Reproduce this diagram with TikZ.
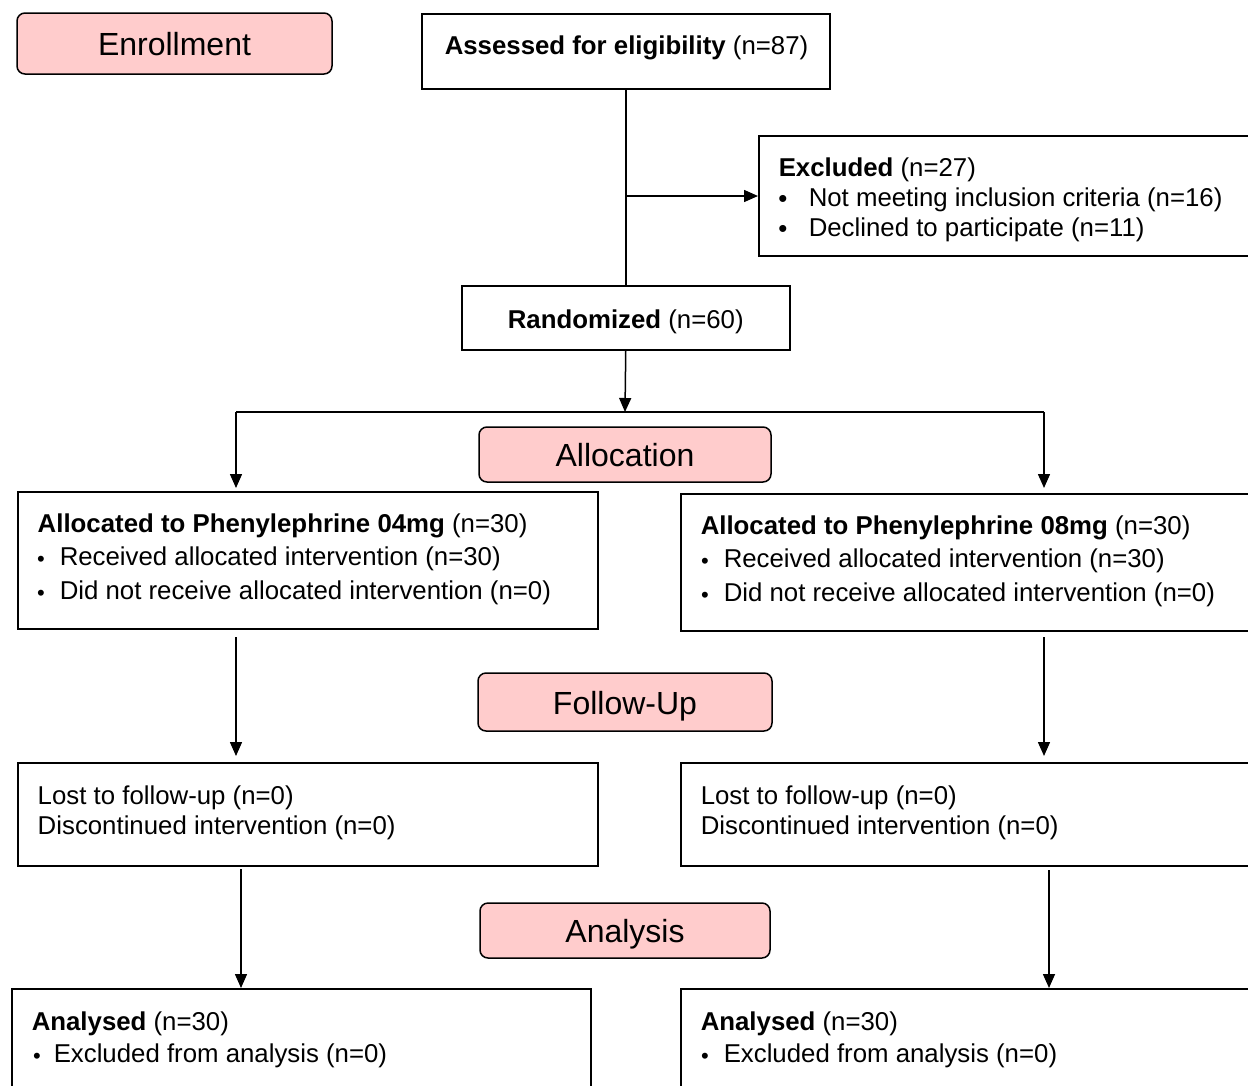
\documentclass[tikz,border=0pt]{standalone}
\usepackage{fontspec}
\setmainfont{Liberation Sans}
\usetikzlibrary{arrows.meta}
\definecolor{pinkfill}{RGB}{255,204,204}
\begin{document}
\begin{tikzpicture}[x=1pt,y=-1pt,line width=1.5pt,
  box/.style={draw,anchor=north west,inner sep=0pt},
  stage/.style={draw,fill=pinkfill,rounded corners=8pt,inner sep=0pt,text height=24pt,text depth=0pt,font=\fontsize{32}{38}\selectfont},
  txt/.style={anchor=west,inner sep=0pt,yshift=-3pt,font=\fontsize{25.8}{30}\selectfont},
  blt/.style={anchor=center,inner sep=0pt,yshift=-4pt,font=\fontsize{22}{26}\selectfont},
  bltbig/.style={anchor=center,inner sep=0pt,yshift=-4pt,font=\fontsize{25.8}{30}\selectfont},
  arr/.style={-{Triangle[length=14pt,width=12pt]}}]
\useasboundingbox (0,0) rectangle (1248,1085);
\clip (0,0) rectangle (1248,1085);
% stage labels
\node[stage,minimum width=315pt,minimum height=61pt] (enroll) at (174.5,43.5) {Enrollment};
\node[stage,minimum width=292pt,minimum height=55pt] (alloc) at (625,454.5) {Allocation};
\node[stage,minimum width=294pt,minimum height=58pt] (follow) at (625,702) {Follow-Up};
\node[stage,minimum width=290pt,minimum height=55pt] (analysis) at (625,930.5) {Analysis};
% boxes
\node[box,minimum width=408pt,minimum height=75pt] (assess) at (421,13) {};
\node[box,minimum width=520pt,minimum height=120pt] (excl) at (758,135) {};
\node[box,minimum width=328pt,minimum height=64pt,text height=21pt,text depth=0pt,font=\fontsize{25.8}{30}\selectfont] (rand) at (461,285) {\textbf{Randomized} (n=60)};
\node[box,minimum width=580pt,minimum height=137pt] (allocL) at (17,491) {};
\node[box,minimum width=600pt,minimum height=137pt] (allocR) at (680,493) {};
\node[box,minimum width=580pt,minimum height=103pt] (lostL) at (17,762) {};
\node[box,minimum width=600pt,minimum height=103pt] (lostR) at (680,762) {};
\node[box,minimum width=579pt,minimum height=130pt] (anaL) at (11,988) {};
\node[box,minimum width=600pt,minimum height=130pt] (anaR) at (680,988) {};
% texts
\node[txt] (t1) at (444,45) {\textbf{Assessed for eligibility} (n=87)};
\node[txt] (t2) at (778,167) {\textbf{Excluded} (n=27)};
\node[bltbig] (b2a) at (783,197) {\textbullet};
\node[txt] (t2a) at (808,197) {Not meeting inclusion criteria (n=16)};
\node[bltbig] (b2b) at (783,227) {\textbullet};
\node[txt] (t2b) at (808,227) {Declined to participate (n=11)};
\node[txt] (t3) at (37,523) {\textbf{Allocated to Phenylephrine 04mg} (n=30)};
\node[blt] (b3a) at (41,557) {\textbullet};
\node[txt] (t3a) at (59,556) {Received allocated intervention (n=30)};
\node[blt] (b3b) at (41,591) {\textbullet};
\node[txt] (t3b) at (59,590) {Did not receive allocated intervention (n=0)};
\node[txt] (t4) at (700,525) {\textbf{Allocated to Phenylephrine 08mg} (n=30)};
\node[blt] (b4a) at (705,559) {\textbullet};
\node[txt] (t4a) at (723,558) {Received allocated intervention (n=30)};
\node[blt] (b4b) at (705,593) {\textbullet};
\node[txt] (t4b) at (723,592) {Did not receive allocated intervention (n=0)};
\node[txt] (t5a) at (37,795) {Lost to follow-up (n=0)};
\node[txt] (t5b) at (37,825) {Discontinued intervention (n=0)};
\node[txt] (t6a) at (700,795) {Lost to follow-up (n=0)};
\node[txt] (t6b) at (700,825) {Discontinued intervention (n=0)};
\node[txt] (t7) at (31,1021) {\textbf{Analysed} (n=30)};
\node[blt] (b7) at (37,1054) {\textbullet};
\node[txt] (t7a) at (53,1053) {Excluded from analysis (n=0)};
\node[txt] (t8) at (700,1021) {\textbf{Analysed} (n=30)};
\node[blt] (b8) at (705,1054) {\textbullet};
\node[txt] (t8a) at (723,1053) {Excluded from analysis (n=0)};
% connectors
\coordinate (jx) at (625,196);
\coordinate (split) at (625,412);
\coordinate (lsplit) at (236,412);
\coordinate (rsplit) at (1044,412);
\coordinate (dl1) at (236,637);
\coordinate (dr1) at (1044,637);
\coordinate (dl2) at (241,869);
\coordinate (dr2) at (1049,870);
\draw (assess.south) -- (rand.north);
\draw[arr] (jx) -- (jx -| excl.west);
\draw[arr] (rand.south) -- (split);
\draw (lsplit) -- (rsplit);
\draw[arr] (lsplit) -- ([yshift=3pt]lsplit |- allocL.north);
\draw[arr] (rsplit) -- ([yshift=5pt]rsplit |- allocR.north);
\draw[arr] (dl1) -- ([yshift=6pt]dl1 |- lostL.north);
\draw[arr] (dr1) -- ([yshift=6pt]dr1 |- lostR.north);
\draw[arr] (dl2) -- (dl2 |- anaL.north);
\draw[arr] (dr2) -- (dr2 |- anaR.north);
\end{tikzpicture}
\end{document}
